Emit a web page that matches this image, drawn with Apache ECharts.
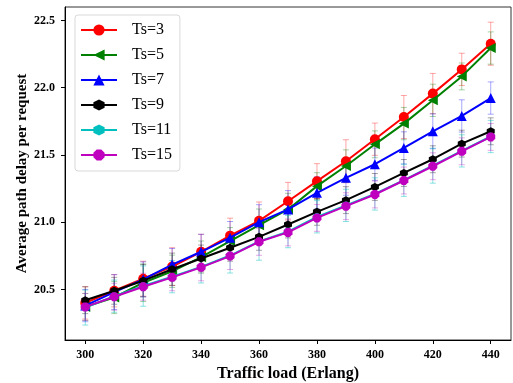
<!DOCTYPE html>
<html><head><meta charset="utf-8">
<script src="https://cdn.jsdelivr.net/npm/echarts@6/dist/echarts.min.js"></script>
<style>html,body{margin:0;padding:0;background:#fff}#c{width:513px;height:383px}</style>
</head><body><div id="c"></div>
<script>
const loads = [300,310,320,330,340,350,360,370,380,390,400,410,420,430,440];
const xTicks = [300,320,340,360,380,400,420,440];
const yTicks = [20.5,21.0,21.5,22.0,22.5];
const names = ['Ts=3','Ts=5','Ts=7','Ts=9','Ts=11','Ts=15'];
const ts3 = [20.40,20.49,20.58,20.67,20.78,20.90,21.01,21.156,21.305,21.453,21.617,21.782,21.956,22.136,22.327];
const ts5 = [20.37,20.44,20.55,20.635,20.74,20.86,20.978,21.095,21.268,21.418,21.579,21.733,21.906,22.084,22.295];
const ts7 = [20.38,20.48,20.575,20.685,20.78,20.885,21.0,21.095,21.218,21.33,21.431,21.552,21.676,21.79,21.923];
const ts9 = [20.42,20.49,20.565,20.65,20.73,20.81,20.891,20.983,21.077,21.164,21.262,21.366,21.468,21.584,21.676];
const ts11 = [20.365,20.45,20.525,20.595,20.668,20.752,20.857,20.93,21.04,21.125,21.21,21.312,21.42,21.53,21.637];
const ts15 = [20.37,20.446,20.52,20.59,20.664,20.748,20.854,20.924,21.032,21.119,21.206,21.31,21.416,21.527,21.634];
const err3 = [0.12,0.12,0.13,0.14,0.13,0.13,0.14,0.14,0.13,0.16,0.12,0.16,0.15,0.12,0.16];
const err5 = [0.10,0.12,0.14,0.12,0.12,0.10,0.12,0.12,0.10,0.12,0.10,0.12,0.12,0.10,0.12];
const err7 = [0.12,0.13,0.13,0.12,0.13,0.12,0.13,0.14,0.12,0.13,0.12,0.12,0.13,0.12,0.12];
const err9 = [0.10,0.10,0.12,0.12,0.10,0.10,0.10,0.10,0.10,0.10,0.10,0.10,0.10,0.10,0.10];
const err11 = [0.13,0.12,0.15,0.12,0.12,0.13,0.14,0.12,0.12,0.12,0.12,0.12,0.13,0.12,0.12];
const err15 = [0.10,0.10,0.10,0.10,0.10,0.10,0.10,0.10,0.10,0.10,0.10,0.10,0.10,0.10,0.10];

const values = [ts3,ts5,ts7,ts9,ts11,ts15];
const errs = [err3,err5,err7,err9,err11,err15];
const colors = ['#ff0000','#008000','#0000ff','#000000','#00bfbf','#bf00bf'];
const errColors = ['rgba(255,0,0,0.35)','rgba(0,128,0,0.35)','rgba(0,0,255,0.35)','rgba(0,0,0,0.35)','rgba(0,191,191,0.45)','rgba(191,0,191,0.35)'];
const hexPath = 'path://M0,-1 L0.866,-0.5 L0.866,0.5 L0,1 L-0.866,0.5 L-0.866,-0.5 Z';
const octPath = 'path://M-0.38,-0.92 L0.38,-0.92 L0.92,-0.38 L0.92,0.38 L0.38,0.92 L-0.38,0.92 L-0.92,0.38 L-0.92,-0.38 Z';
const symbols = ['circle','triangle','triangle',hexPath,hexPath,octPath];
const rot = [0,90,0,0,0,0];
const sizes = [10,10,10,8,8,9];

const serif = '"Liberation Serif","Times New Roman",serif';
const series = [];
values.forEach((v,i)=>{
  series.push({
    type:'custom', name: names[i]+'_err', silent:true, z:1,
    data: loads.map((x,j)=>[x, v[j]-errs[i][j], v[j]+errs[i][j]]),
    encode:{x:0,y:[1,2]},
    renderItem:(params,api)=>{
      const x = api.value(0);
      const lo = api.coord([x, api.value(1)]);
      const hi = api.coord([x, api.value(2)]);
      const w = 3;
      const st = {stroke: errColors[i], lineWidth:1};
      return {type:'group', children:[
        {type:'line', shape:{x1:lo[0],y1:lo[1],x2:hi[0],y2:hi[1]}, style:st},
        {type:'line', shape:{x1:lo[0]-w,y1:lo[1],x2:lo[0]+w,y2:lo[1]}, style:st},
        {type:'line', shape:{x1:hi[0]-w,y1:hi[1],x2:hi[0]+w,y2:hi[1]}, style:st}
      ]};
    }
  });
});
values.forEach((v,i)=>{
  series.push({
    type:'line', name:names[i], z:2+i,
    data: loads.map((x,j)=>[x, v[j]]),
    symbol: symbols[i], symbolSize: sizes[i], symbolRotate: rot[i],
    showAllSymbol:true,
    lineStyle:{color:colors[i], width:2},
    itemStyle:{color:colors[i], opacity:1},
    emphasis:{disabled:true}
  });
});

const chart = echarts.init(document.getElementById('c'), null, {renderer:'canvas'});
chart.setOption({
  animation:false,
  backgroundColor:'#fff',
  grid:{left:65, right:2, top:7, bottom:43, show:true, borderColor:'#333', borderWidth:1,
    containLabel:false, outerBoundsMode:'none'},
  legend:{
    data:names, orient:'vertical', left:75, top:15,
    padding:[7,8,8,5], itemGap:9, itemWidth:36, itemHeight:14,
    backgroundColor:'#fff', borderColor:'#d9d9d9', borderWidth:1, borderRadius:3,
    textStyle:{fontFamily:serif, fontSize:16, color:'#000', padding:[0,0,0,10]}
  },
  xAxis:{
    type:'value', min:293, max:447,
    name:'Traffic load (Erlang)', nameLocation:'middle', nameGap:26,
    nameTextStyle:{fontFamily:serif, fontWeight:'bold', fontSize:16, color:'#000'},
    axisLine:{show:true, onZero:false, lineStyle:{color:'#000'}},
    axisTick:{show:true, length:4, customValues:xTicks, lineStyle:{color:'#000'}},
    axisLabel:{customValues:xTicks, fontFamily:serif, fontWeight:'bold', fontSize:12, color:'#000', margin:9},
    splitLine:{show:false}
  },
  yAxis:{
    type:'value', min:20.124, max:22.6,
    name:'Average path delay per request', nameLocation:'middle', nameGap:35, nameMoveOverlap:false,
    nameTextStyle:{fontFamily:serif, fontWeight:'bold', fontSize:15, color:'#000'},
    axisLine:{show:true, onZero:false, lineStyle:{color:'#000'}},
    axisTick:{show:true, length:4, customValues:yTicks, lineStyle:{color:'#000'}},
    axisLabel:{customValues:yTicks, fontFamily:serif, fontWeight:'bold', fontSize:12, color:'#000', margin:10,
      formatter:v=>v.toFixed(1)},
    splitLine:{show:false}
  },
  series:series
});
</script></body></html>
